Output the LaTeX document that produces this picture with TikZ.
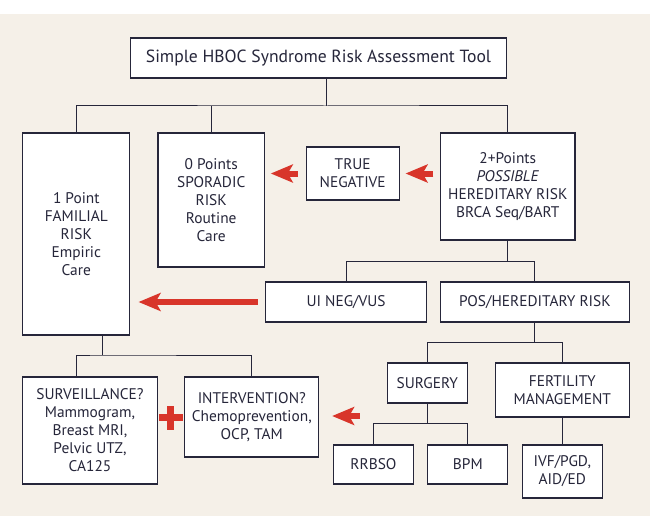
\documentclass[tikz,border=0pt]{standalone}
\usepackage{fontspec}
\setmainfont{PT Sans}
\usetikzlibrary{
        arrows.meta,
        calc,
        positioning
    }
\definecolor{paper}{HTML}{F5F0E8}
\definecolor{boxline}{HTML}{26263A}
\definecolor{arrowred}{HTML}{D8352A}
\tikzset{box/.style={draw=boxline,fill=white,line width=1.1pt,align=center,inner sep=2pt,
    text=boxline,font=\fontsize{15.4}{18}\selectfont}}
\tikzset{tree/.style={draw=boxline,line width=1pt}}
\tikzset{redarrow/.style={draw=arrowred,line width=6pt,-{Stealth[length=22pt,width=18pt,inset=5pt]}}}

\begin{document}
\begin{tikzpicture}[x=1pt,y=-1pt]
                    \fill[white] (0,0) rectangle (650,524);
                    \fill[paper] (0,14) rectangle (650,516);
                    \useasboundingbox (0,0) rectangle (650,524);

                        \node[box,minimum width=376pt,minimum height=40pt,font=\fontsize{17.6}{20}\selectfont] (title) at (318.5,58) {Simple HBOC Syndrome Risk Assessment Tool};
                        \node[box,minimum width=107pt,minimum height=202pt] (one) at (76.3,234) {1 Point\\FAMILIAL\\RISK\\Empiric\\Care};
                        \node[box,minimum width=106.5pt,minimum height=134pt] (zero) at (211.2,200) {0 Points\\SPORADIC\\RISK\\Routine\\Care};
                        \node[box,minimum width=93pt,minimum height=53pt] (trueneg) at (352.7,173.5) {TRUE\\NEGATIVE};
                        \node[box,minimum width=134.4pt,minimum height=107pt] (two) at (507.8,186.5) {2+Points\\\textit{POSSIBLE}\\HEREDITARY RISK\\BRCA Seq/BART};
                        \node[box,minimum width=160.8pt,minimum height=40pt] (uineg) at (346.1,302) {UI NEG/VUS};
                        \node[box,minimum width=188.6pt,minimum height=40pt] (pos) at (534.9,302) {POS/HEREDITARY RISK};
                        \node[box,minimum width=134.3pt,minimum height=107pt] (surv) at (90,430.5) {SURVEILLANCE?\\Mammogram,\\Breast MRI,\\Pelvic UTZ,\\CA125};
                        \node[box,minimum width=134pt,minimum height=80pt] (interv) at (251.8,417) {INTERVENTION?\\Chemoprevention,\\OCP, TAM};
                        \node[box,minimum width=79.5pt,minimum height=40pt] (surgery) at (427.3,383) {SURGERY};
                        \node[box,minimum width=134pt,minimum height=54pt] (fert) at (562.3,390) {FERTILITY\\MANAGEMENT};
                        \node[box,minimum width=79.6pt,minimum height=39pt] (rrbso) at (373.5,464.5) {RRBSO};
                        \node[box,minimum width=80pt,minimum height=39pt] (bpm) at (467.8,464.5) {BPM};
                        \node[box,minimum width=80pt,minimum height=53pt] (ivf) at (562.3,471.5) {IVF/PGD,\\AID/ED};

                    % tree lines
                    \coordinate (j1) at (326,106);
                    \coordinate (j3) at (102.8,355);
                    \coordinate (arrtail) at (359.8,416);
                    \path (two.south) ++(0,21) coordinate (j2);
                    \path (pos.south) ++(0,20) coordinate (j4);
                    \path (surgery.south) ++(0,20) coordinate (j5);
                    \draw[tree] (j1 |- title.south) -- (j1);
                    \draw[tree] (one.north) |- (j1) -| (two.north);
                    \draw[tree] (zero.north) -- (zero.north |- j1);
                    \draw[tree] (two.south) -- (j2);
                    \draw[tree] (uineg.north) |- (j2) -| (pos.north);
                    \draw[tree] (j3 |- one.south) -- (j3);
                    \draw[tree] (one.north |- surv.north) |- (j3) -| (interv.north);
                    \draw[tree] (pos.south) -- (j4);
                    \draw[tree] (surgery.north) |- (j4) -| (fert.north);
                    \draw[tree] (surgery.south) -- (j5);
                    \draw[tree] (rrbso.north) |- (j5) -| (bpm.north);
                    \draw[tree] (fert.south) -- (ivf.north);

                    % red arrows
                    \draw[redarrow,shorten <=6.6pt,shorten >=5.8pt] (two.west |- trueneg.east) -- (trueneg.east);
                    \draw[redarrow,shorten <=8pt,shorten >=5.8pt] (trueneg.west) -- (trueneg.west -| zero.east);
                    \draw[redarrow,shorten <=7.5pt,shorten >=8.2pt] (uineg.west) -- (uineg.west -| one.east);
                    \draw[redarrow,shorten >=12.8pt] (arrtail) -- (arrtail -| interv.east);

                    % plus sign
                    \coordinate (plus) at (170.5,417.5);
                    \fill[arrowred] (plus) +(-12,-3.2) rectangle +(12,3.2);
                    \fill[arrowred] (plus) +(-3.2,-12) rectangle +(3.2,12);
                    \end{tikzpicture}
\end{document}
